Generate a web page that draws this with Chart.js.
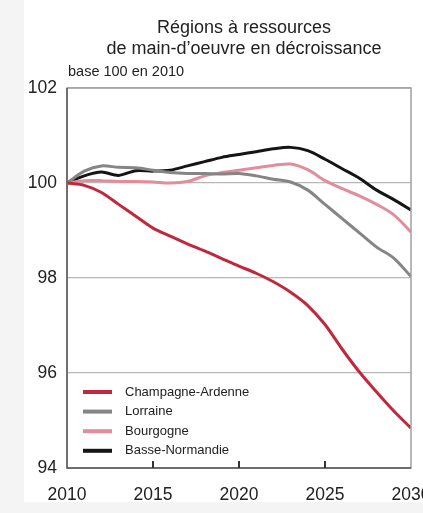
<!DOCTYPE html>
<html lang="fr">
<head>
<meta charset="UTF-8">
<title>Régions à ressources de main-d’oeuvre en décroissance</title>
<script src="https://cdn.jsdelivr.net/npm/chart.js@4.4.0/dist/chart.umd.min.js"></script>
<style>
  html, body { margin: 0; padding: 0; overflow: hidden; background: #f4f4f4; }
  #panel { position: absolute; left: 24px; top: 0; width: 399px; height: 502px; background: #fff; }
  #chart { position: absolute; left: 0; top: 0; }
</style>
</head>
<body>
<div id="panel"></div>
<canvas id="chart" width="445" height="513"></canvas>
<script>
// indices base 100 en 2010
const years = [2010, 2011, 2012, 2013, 2014, 2015, 2016, 2017, 2018, 2019, 2020,
               2021, 2022, 2023, 2024, 2025, 2026, 2027, 2028, 2029, 2030];
const champagne = [100, 99.95, 99.8, 99.55, 99.3, 99.05, 98.88, 98.72, 98.57, 98.41, 98.25,
                   98.1, 97.92, 97.7, 97.42, 97.02, 96.5, 96.02, 95.6, 95.2, 94.84];
const lorraine = [100, 100.25, 100.36, 100.33, 100.32, 100.27, 100.22, 100.2, 100.2, 100.19, 100.2,
                  100.15, 100.08, 100.02, 99.85, 99.55, 99.25, 98.95, 98.65, 98.42, 98.03];
const bourgogne = [100, 100.05, 100.05, 100.03, 100.03, 100.02, 100.0, 100.03, 100.15, 100.22, 100.27,
                   100.32, 100.37, 100.4, 100.28, 100.05, 99.88, 99.73, 99.55, 99.33, 98.97];
const basseNormandie = [100, 100.15, 100.23, 100.16, 100.26, 100.25, 100.27, 100.36, 100.45, 100.54, 100.6,
                        100.66, 100.72, 100.75, 100.68, 100.5, 100.3, 100.1, 99.85, 99.65, 99.43];

const regions = ['Champagne-Ardenne', 'Lorraine', 'Bourgogne', 'Basse-Normandie'];
const colors = ['#c0283e', '#858585', '#e38c9c', '#151515'];
const series = [champagne, lorraine, bourgogne, basseNormandie];

const titleLines = ['Régions à ressources', 'de main-d’oeuvre en décroissance'];
const note = 'base 100 en 2010';
const yTicks = [94, 96, 98, 100, 102];
const xTicks = [2010, 2015, 2020, 2025, 2030];

const FONT = 'Liberation Sans, Arial, sans-serif';

// title, frame, inner tick marks and legend
const decorations = {
  id: 'decorations',
  beforeDatasetsDraw(chart) {
    const { ctx, chartArea: a } = chart;
    ctx.save();
    ctx.fillStyle = '#222';
    ctx.textAlign = 'center';
    ctx.textBaseline = 'alphabetic';
    ctx.font = '18px ' + FONT;
    ctx.fillText(titleLines[0], 244, 33);
    ctx.fillText(titleLines[1], 244, 54);
    ctx.textAlign = 'left';
    ctx.font = '14.5px ' + FONT;
    ctx.fillText(note, a.left + 1, a.top - 12);
    ctx.restore();
  },
  afterDatasetsDraw(chart) {
    const { ctx, chartArea: a, scales } = chart;
    ctx.save();
    ctx.lineWidth = 1.5;
    ctx.strokeStyle = '#a0a0a0';
    ctx.strokeRect(a.left, a.top, a.right - a.left, a.bottom - a.top);
    ctx.strokeStyle = '#5a5a5a';
    ctx.beginPath();
    ctx.moveTo(a.left, a.top);
    ctx.lineTo(a.left, a.bottom);
    ctx.lineTo(a.right, a.bottom);
    ctx.stroke();

    ctx.lineWidth = 2;
    ctx.strokeStyle = '#333';
    xTicks.slice(1, -1).forEach(v => {
      const x = scales.x.getPixelForValue(v);
      ctx.beginPath();
      ctx.moveTo(x, a.bottom);
      ctx.lineTo(x, a.bottom - 7);
      ctx.stroke();
    });

    ctx.font = '13px ' + FONT;
    ctx.textBaseline = 'middle';
    ctx.textAlign = 'left';
    chart.data.datasets.forEach((ds, i) => {
      const y = 392 + i * 19.6;
      ctx.strokeStyle = ds.borderColor;
      ctx.lineWidth = 4;
      ctx.beginPath();
      ctx.moveTo(a.left + 16, y);
      ctx.lineTo(a.left + 45, y);
      ctx.stroke();
      ctx.fillStyle = '#222';
      ctx.fillText(ds.label, a.left + 58, y);
    });
    ctx.restore();
  }
};

new Chart(document.getElementById('chart'), {
  type: 'line',
  data: {
    datasets: regions.map((name, i) => ({
      label: name,
      data: years.map((yr, k) => ({ x: yr, y: series[i][k] })),
      borderColor: colors[i],
      borderWidth: 3,
      pointRadius: 0,
      tension: 0.3,
      fill: false
    }))
  },
  options: {
    responsive: false,
    animation: false,
    layout: { padding: { top: 88, right: 34, left: 0, bottom: 0 } },
    plugins: {
      legend: { display: false },
      title: { display: false },
      tooltip: { enabled: false }
    },
    scales: {
      x: {
        type: 'linear',
        min: 2010,
        max: 2030,
        afterBuildTicks: s => { s.ticks = xTicks.map(v => ({ value: v })); },
        afterFit: s => { s.height = 45; },
        grid: { display: false },
        border: { display: false },
        ticks: {
          padding: 9,
          color: '#222',
          font: { family: FONT, size: 17.5 },
          callback: v => String(v)
        }
      },
      y: {
        min: 94,
        max: 102,
        afterBuildTicks: s => { s.ticks = yTicks.map(v => ({ value: v })); },
        afterFit: s => { s.width = 67; },
        grid: { color: '#b8b8b8', lineWidth: 1.2, drawTicks: false },
        border: { display: false },
        ticks: {
          padding: 10,
          color: '#222',
          font: { family: FONT, size: 17.5 }
        }
      }
    }
  },
  plugins: [decorations]
});
</script>
</body>
</html>
